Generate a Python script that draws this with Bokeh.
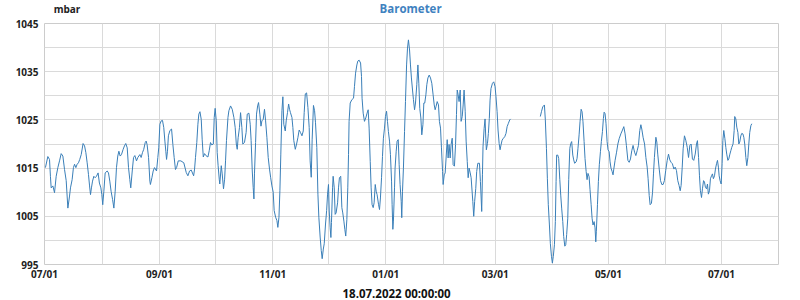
import numpy as np
import pandas as pd
from bokeh.plotting import figure
from bokeh.layouts import column
from bokeh.models import FixedTicker, DatetimeTickFormatter, Range1d, ColumnDataSource, Title
from bokeh.core.properties import value
from bokeh.embed import file_html
from bokeh.resources import INLINE

# ---- data (days since 2021-07-01, pressure in mbar) ----
start_date = "2021-07-01"
end_offset_days = 395.7

days = [
    0.5, 1.8, 2.7, 3.2, 3.6, 4.5, 5.4, 6.3, 7.2, 8.1,
    9.0, 9.9, 10.8, 11.7, 12.6, 13.5, 14.0, 14.9, 15.6, 16.2,
    16.9, 17.6, 18.3, 19.0, 19.8, 20.8, 21.6, 22.3, 23.0, 23.7,
    24.3, 24.8, 25.3, 25.9, 26.6, 27.3, 28.0, 28.9, 29.6, 30.4,
    30.9, 31.4, 32.0, 32.7, 33.8, 34.5, 35.2, 35.9, 36.7, 37.4,
    38.1, 38.8, 39.5, 40.1, 40.8, 41.5, 42.4, 43.1, 43.8, 44.6,
    45.3, 46.0, 46.5, 47.3, 48.0, 48.7, 49.6, 50.3, 51.4, 52.1,
    52.8, 53.5, 54.3, 54.8, 55.3, 56.1, 56.8, 57.1, 57.9, 58.6,
    59.3, 60.4, 61.1, 61.6, 62.2, 62.9, 63.6, 64.3, 64.9, 65.4,
    65.8, 66.3, 66.8, 67.6, 68.5, 69.2, 69.9, 70.6, 71.2, 72.1,
    73.5, 75.1,
    76.4, 77.3, 78.2, 79.1, 80.4, 80.9, 81.4, 82.1, 82.7, 83.2,
    83.8, 84.5, 85.0, 85.6, 86.3, 87.0, 88.1, 88.8, 89.5, 90.2,
    91.0, 91.5, 92.0, 92.6, 93.1, 93.6, 94.2, 94.5, 95.3, 95.8,
    96.5, 97.1, 97.6, 98.1, 98.9, 99.4, 100.3, 101.2, 102.1, 102.8,
    103.4, 103.9, 104.4, 105.1, 105.7, 106.4, 106.9, 107.8, 108.7, 109.3,
    110.2, 110.9, 111.4, 112.0, 112.5, 112.9, 113.2, 113.8, 114.3, 114.9,
    115.4, 116.1, 116.7, 117.2, 117.9, 118.6, 119.2, 119.9, 120.6, 121.3,
    121.9, 122.6, 123.3, 123.8, 124.6, 125.3, 125.8, 126.4, 126.9, 127.4,
    128.0, 128.5, 129.0, 129.8, 130.3, 131.0, 131.6, 132.1, 132.6, 133.4,
    133.9, 134.4, 135.2, 135.9, 136.6, 137.3, 138.0, 138.8, 139.5, 140.0,
    140.6, 141.3, 142.0, 142.7, 143.2, 143.8, 144.3, 145.0, 145.6, 146.1,
    146.8, 147.4, 147.9, 148.6, 149.2, 149.7, 150.3, 150.8, 151.5, 152.1,
    152.6, 153.1,
    153.5, 154.0, 154.4, 154.7, 155.3, 155.6, 156.2, 156.7, 157.2, 158.0,
    158.5, 159.0, 159.7, 160.3, 160.8, 161.4, 161.9, 162.4, 163.0, 163.5,
    163.9, 164.2, 164.8, 165.7, 166.6, 167.1, 167.7, 168.4, 168.9, 169.6,
    170.4, 170.9, 171.2, 171.8, 172.5, 173.2, 173.9, 174.5, 175.0, 175.6,
    176.1, 176.6, 177.2, 177.7, 178.3, 178.8, 179.3, 180.1, 180.6, 181.1,
    181.7, 182.2, 182.7, 183.3, 183.8, 184.4, 184.9, 185.4, 186.0, 186.5,
    187.1, 187.4, 187.8, 188.1, 188.7, 189.0, 189.6, 190.1, 190.7, 191.2,
    191.7, 192.3, 192.6, 193.0, 193.5, 194.1, 194.6, 195.2, 195.7, 196.2,
    196.8, 197.3, 197.8, 198.4, 198.9, 199.5, 200.0, 200.7, 201.3, 201.8,
    202.3, 202.9, 203.4, 204.0, 204.5, 205.0, 205.6, 206.1, 206.7, 207.4,
    208.1, 208.8, 209.5, 210.1, 210.6, 211.1, 211.7, 212.4, 212.9, 213.5,
    214.0, 214.6, 214.9, 215.5, 216.0, 216.5, 217.1, 217.6, 218.1, 218.7,
    219.2, 219.8, 220.3, 221.0, 221.6, 222.1, 222.5, 223.0, 223.5, 224.1,
    224.6, 225.2, 225.7, 226.2, 226.8, 227.3, 227.9, 228.4, 228.9, 229.5,
    230.0,
    230.9, 231.4, 231.9, 232.5, 233.0, 233.6, 234.5, 235.0, 235.4, 235.7,
    236.1, 236.4, 237.0, 237.5, 237.9, 238.2, 238.8, 239.3, 239.8, 240.2,
    240.7, 241.5, 242.2, 242.9, 243.4, 244.0, 244.5, 245.1, 245.6, 246.1,
    246.7, 247.4, 248.1, 248.8, 249.4, 250.1, 250.8, 251.3, 259.0, 267.3,
    267.9, 268.6, 269.5, 270.0, 270.6, 271.1, 271.6, 272.2, 272.7, 273.3,
    273.8, 274.3, 274.9, 275.4, 275.8, 276.1, 276.7, 277.2, 277.8, 278.3,
    278.8, 279.4, 279.9, 280.5, 281.0, 281.5, 282.1, 282.6, 283.2, 283.7,
    284.2, 284.8, 285.3, 285.8, 286.6, 287.1, 287.6, 288.2, 288.7, 289.3,
    289.8, 290.3, 290.9, 291.4, 292.0, 292.5, 293.0, 293.6, 294.1, 294.7,
    295.2, 295.7, 296.3, 296.8, 297.2, 297.5, 298.1, 298.6, 299.1, 299.7,
    300.2, 300.8, 301.3, 301.7, 302.2, 302.7, 303.3, 303.8, 304.4, 304.9,
    305.4, 306.0, 306.5,
    306.9, 307.6, 308.4, 309.1, 309.8, 310.7, 311.6, 312.3, 313.0, 313.7,
    314.5, 315.2, 315.9, 316.6, 317.3, 318.1, 318.8, 319.5, 320.2, 320.9,
    321.5, 322.0, 322.7, 323.5, 324.2, 324.9, 325.4, 326.0, 326.5, 327.2,
    327.8, 328.3, 328.8, 329.6, 330.1, 330.6, 331.4, 332.1, 332.8, 333.5,
    334.2, 334.9, 335.7, 336.4, 337.1, 337.8, 338.5, 339.3, 340.0, 340.7,
    341.4, 342.1, 342.7, 343.2, 343.8, 344.3, 345.0, 345.7, 346.5, 347.2,
    347.9, 348.6, 349.3, 350.0, 350.8, 351.5, 352.0, 352.6, 353.1, 353.6,
    354.2, 354.7, 355.3, 355.8, 356.3, 356.9, 357.4, 357.9, 358.5, 359.0,
    359.6, 360.1, 360.6, 361.2, 361.7, 362.3, 362.8, 363.3, 363.7, 364.2,
    364.8, 365.3, 365.7, 366.2, 366.8, 367.3, 367.8, 368.4, 368.9, 369.5,
    370.0, 370.5, 371.2, 371.8, 372.1, 372.7, 373.2, 373.8, 374.3, 374.8,
    375.4, 375.9, 376.5, 377.0, 377.5, 378.1, 378.6, 379.2, 379.7, 380.2,
    380.8, 381.3,
]

pressure = [
    1015.1, 1017.4, 1016.8, 1013.3, 1010.9, 1011.3, 1009.9, 1013.3, 1015.1, 1016.5,
    1018.0, 1017.5, 1014.7, 1012.4, 1006.7, 1009.2, 1010.9, 1012.6, 1015.1, 1015.8,
    1015.1, 1015.8, 1016.1, 1016.8, 1017.8, 1020.1, 1019.6, 1018.2, 1016.1, 1013.7,
    1011.3, 1009.5, 1010.9, 1012.3, 1013.3, 1013.0, 1013.3, 1014.0, 1011.9, 1010.9,
    1009.5, 1007.4, 1010.2, 1014.0, 1014.4, 1014.0, 1012.3, 1010.2, 1008.5, 1006.7,
    1010.2, 1015.1, 1017.5, 1018.5, 1017.5, 1017.8, 1018.9, 1019.6, 1020.1, 1019.2,
    1015.1, 1012.6, 1010.9, 1014.4, 1017.2, 1017.6, 1016.5, 1017.2, 1017.8, 1017.2,
    1018.2, 1018.9, 1020.3, 1020.6, 1019.9, 1017.2, 1012.3, 1011.6, 1013.0, 1014.4,
    1015.1, 1014.4, 1017.2, 1019.2, 1024.1, 1024.8, 1024.9, 1023.4, 1020.6, 1018.5,
    1016.8, 1018.5, 1021.7, 1022.8, 1023.1, 1019.9, 1017.2, 1014.7, 1015.1, 1016.5,
    1016.5, 1016.1,
    1014.1, 1013.4, 1014.4, 1014.6, 1013.4, 1014.8, 1017.2, 1020.3, 1024.1, 1026.2,
    1026.7, 1025.1, 1021.0, 1017.3, 1018.0, 1017.6, 1017.3, 1018.6, 1020.3, 1019.8,
    1020.0, 1025.5, 1027.4, 1024.8, 1018.2, 1015.5, 1012.7, 1011.7, 1015.5, 1013.8,
    1010.7, 1012.7, 1016.5, 1020.7, 1025.5, 1026.9, 1027.9, 1027.2, 1025.5, 1023.4,
    1020.0, 1018.9, 1021.3, 1023.4, 1026.5, 1023.4, 1020.0, 1020.3, 1022.4, 1026.2,
    1026.4, 1024.1, 1020.7, 1014.4, 1011.0, 1008.6, 1013.8, 1020.3, 1026.2, 1027.9,
    1028.6, 1026.2, 1023.7, 1024.8, 1025.1, 1027.2, 1024.8, 1021.3, 1017.2, 1014.8,
    1013.1, 1011.3, 1010.0, 1006.2, 1004.8, 1004.1, 1002.7, 1004.8, 1010.3, 1017.9,
    1026.9, 1029.8, 1024.1, 1022.7, 1024.8, 1026.5, 1028.3, 1027.2, 1026.5, 1025.5,
    1023.4, 1020.7, 1018.9, 1020.0, 1021.3, 1022.9, 1022.4, 1021.7, 1022.7, 1026.5,
    1030.4, 1030.6, 1027.6, 1023.4, 1016.5, 1013.1, 1021.0, 1028.0, 1026.9, 1024.4,
    1019.3, 1009.6, 1004.8, 1000.7, 997.9, 996.2, 998.2, 999.3, 1003.4, 1006.2,
    1009.6, 1011.6,
    1006.1, 1002.6, 1000.6, 1003.7, 1010.9, 1013.3, 1010.9, 1005.4, 1005.7, 1007.8,
    1010.9, 1013.0, 1013.3, 1006.8, 1005.7, 1004.0, 1002.3, 1000.9, 1004.3, 1010.9,
    1017.8, 1024.7, 1028.5, 1029.2, 1029.5, 1031.9, 1034.7, 1036.4, 1037.2, 1037.4,
    1036.8, 1034.0, 1029.5, 1026.4, 1024.7, 1025.4, 1026.4, 1027.1, 1023.3, 1016.4,
    1010.9, 1007.4, 1006.8, 1007.8, 1011.6, 1010.2, 1009.5, 1007.4, 1006.4, 1008.8,
    1013.0, 1017.4, 1021.2, 1023.3, 1025.7, 1026.8, 1024.7, 1022.6, 1020.6, 1017.8,
    1012.3, 1007.4, 1002.3, 1004.0, 1010.9, 1015.0, 1018.5, 1020.6, 1020.9, 1015.7,
    1011.6, 1008.1, 1004.7, 1010.2, 1015.0, 1022.6, 1028.8, 1036.4, 1039.9, 1041.6,
    1039.5, 1036.4, 1033.7, 1031.2, 1029.2, 1027.1, 1028.5, 1032.3, 1036.4, 1032.6,
    1027.4, 1025.4, 1021.9, 1024.0, 1028.5, 1028.5, 1030.2, 1032.3, 1033.7, 1034.3,
    1033.7, 1032.6, 1030.2, 1028.1, 1027.1, 1027.8, 1028.8, 1028.1, 1024.7, 1023.3,
    1019.2, 1014.3, 1011.6, 1013.6, 1014.0, 1017.1, 1020.9, 1017.1, 1019.9, 1017.1,
    1019.9, 1021.2, 1015.7, 1015.4, 1019.9, 1026.1, 1031.2, 1030.2, 1028.8, 1031.2,
    1024.7, 1025.7, 1028.1, 1031.2, 1026.8, 1020.6, 1016.4, 1013.0, 1015.0, 1014.0,
    1013.0,
    1008.1, 1005.0, 1008.1, 1010.8, 1014.3, 1016.0, 1016.0, 1012.2, 1008.8, 1006.0,
    1013.6, 1019.4, 1023.2, 1025.2, 1021.2, 1018.8, 1020.1, 1022.2, 1025.3, 1029.1,
    1031.5, 1032.6, 1032.9, 1031.9, 1029.8, 1026.7, 1022.9, 1020.1, 1018.8, 1019.8,
    1020.8, 1021.2, 1021.5, 1022.2, 1023.6, 1024.3, 1025.0, 1025.2, float("nan"), 1025.7,
    1026.7, 1027.7, 1028.1, 1025.0, 1019.1, 1012.9, 1007.4, 1003.2, 999.4, 996.7,
    995.3, 996.7, 999.1, 1003.9, 1012.2, 1017.7, 1017.7, 1017.0, 1012.6, 1009.4,
    1006.7, 1003.9, 1000.8, 998.8, 999.1, 1001.2, 1004.6, 1012.6, 1019.1, 1020.1,
    1020.5, 1017.7, 1016.7, 1016.0, 1016.3, 1017.0, 1019.1, 1021.9, 1024.6, 1027.2,
    1026.7, 1024.6, 1020.5, 1017.0, 1014.3, 1012.6, 1013.9, 1013.2, 1010.5, 1007.4,
    1004.6, 1003.2, 1003.9, 1002.6, 999.7, 1001.9, 1007.4, 1012.2, 1015.7, 1018.4,
    1020.5, 1022.6, 1025.3, 1026.6, 1026.3, 1024.3, 1020.5, 1018.8, 1018.4, 1016.3,
    1015.0, 1014.3, 1013.6,
    1014.8, 1016.6, 1018.3, 1020.0, 1021.1, 1022.1, 1022.9, 1023.6, 1022.1, 1019.7,
    1016.6, 1016.2, 1016.9, 1018.6, 1019.7, 1018.3, 1017.6, 1018.6, 1019.7, 1022.8,
    1024.0, 1023.1, 1021.4, 1020.0, 1017.2, 1015.2, 1012.8, 1009.3, 1007.4, 1007.7,
    1010.0, 1013.8, 1017.2, 1021.4, 1020.4, 1017.9, 1014.8, 1012.4, 1011.6, 1011.6,
    1012.4, 1014.5, 1016.6, 1017.9, 1016.7, 1016.2, 1015.9, 1014.8, 1015.2, 1014.5,
    1012.4, 1011.4, 1010.3, 1011.4, 1015.2, 1019.0, 1021.7, 1020.8, 1019.3, 1017.2,
    1019.7, 1020.0, 1016.9, 1016.6, 1017.9, 1020.0, 1020.7, 1017.2, 1013.4, 1010.3,
    1008.9, 1010.7, 1012.4, 1012.1, 1011.0, 1010.7, 1011.7, 1009.6, 1010.3, 1012.8,
    1013.4, 1013.8, 1012.8, 1013.4, 1014.8, 1015.9, 1016.6, 1015.2, 1013.4, 1012.4,
    1011.7, 1015.9, 1020.7, 1022.8, 1021.1, 1019.3, 1017.9, 1016.6, 1016.9, 1017.9,
    1018.6, 1019.3, 1020.0, 1022.8, 1025.7, 1025.2, 1023.5, 1022.4, 1020.0, 1020.4,
    1021.7, 1022.2, 1022.1, 1021.4, 1020.0, 1017.2, 1015.5, 1017.2, 1020.0, 1022.4,
    1023.8, 1024.2,
]

y_label_ticks = [995, 1005, 1015, 1025, 1035, 1045]
y_grid_ticks = [995, 1000, 1005, 1010, 1015, 1020, 1025, 1030, 1035, 1040, 1045]
x_label_dates = ["2021-07-01", "2021-09-01", "2021-11-01", "2022-01-01",
                 "2022-03-01", "2022-05-01", "2022-07-01"]
x_grid_dates = ["2021-07-01", "2021-08-01", "2021-09-01", "2021-10-01",
                "2021-11-01", "2021-12-01", "2022-01-01", "2022-02-01",
                "2022-03-01", "2022-04-01", "2022-05-01", "2022-06-01",
                "2022-07-01"]
title_text = "Barometer"
unit_text = "mbar"
date_text = "18.07.2022 00:00:00"

assert len(days) == len(pressure)

start = pd.Timestamp(start_date)
times = start + pd.to_timedelta(np.array(days), unit="D")
src = ColumnDataSource(dict(t=times, p=np.array(pressure, dtype=float)))

def ms(d):
    return pd.Timestamp(d).value // 10**6

FONT = "Open Sans"
LINE = "#3a7fb8"
GRID = "#dadada"
HEADER_H = 18

# ---- header strip with unit label and title ----
hdr = figure(width=800, height=HEADER_H, x_range=Range1d(0, 800),
             y_range=Range1d(HEADER_H, 0), title=None,
             output_backend="svg", toolbar_location=None,
             x_axis_location=None, y_axis_location=None,
             min_border_left=0, min_border_right=0,
             min_border_top=0, min_border_bottom=0)
hdr.grid.visible = False
hdr.outline_line_color = None
hdr.text(x=[10], y=[8], text=[unit_text], text_font=value(FONT),
         text_font_style="bold", text_font_size="10px", text_color="#222222",
         text_align="left", text_baseline="middle")
hdr.text(x=[399], y=[7.5], text=[title_text], text_font=value(FONT),
         text_font_style="bold", text_font_size="11.5px", text_color="#3f82bf",
         text_align="center", text_baseline="middle")

# ---- main chart ----
p = figure(width=800, height=300 - HEADER_H, x_axis_type="datetime",
           x_range=Range1d(start, start + pd.Timedelta(days=end_offset_days)),
           y_range=Range1d(995, 1045), title=None,
           output_backend="svg", toolbar_location=None,
           min_border_left=44, min_border_right=22,
           min_border_top=23 - HEADER_H, min_border_bottom=35)

p.add_layout(Title(text=date_text, align="left", offset=298, standoff=0,
                   text_font=FONT, text_font_style="bold",
                   text_font_size="11.5px", text_color="#111111"), "below")

p.line("t", "p", source=src, line_color=LINE, line_width=1)

p.outline_line_color = "#cccccc"
p.background_fill_color = "white"
p.border_fill_color = "white"

p.xaxis.ticker = FixedTicker(ticks=[ms(d) for d in x_label_dates])
p.xgrid.ticker = FixedTicker(ticks=[ms(d) for d in x_grid_dates])
p.xaxis.formatter = DatetimeTickFormatter(
    years="%m/%d", months="%m/%d", days="%m/%d", hours="%m/%d",
    minutes="%m/%d", seconds="%m/%d", milliseconds="%m/%d", microseconds="%m/%d")
p.yaxis.ticker = FixedTicker(ticks=y_label_ticks)
p.ygrid.ticker = FixedTicker(ticks=y_grid_ticks)

for ax in (p.xaxis[0], p.yaxis[0]):
    ax.axis_line_color = None
    ax.major_tick_line_color = None
    ax.minor_tick_line_color = None
    ax.major_tick_out = 0
    ax.major_tick_in = 0
    ax.major_label_text_font = FONT
    ax.major_label_text_font_style = "bold"
    ax.major_label_text_font_size = "10px"
    ax.major_label_text_color = "#222222"
p.xaxis.major_label_standoff = 2
p.yaxis.major_label_standoff = 6

for g in (p.xgrid[0], p.ygrid[0]):
    g.grid_line_color = GRID
    g.grid_line_width = 1

layout = column(hdr, p, spacing=0)
open("out.html", "w").write(file_html(layout, INLINE))
